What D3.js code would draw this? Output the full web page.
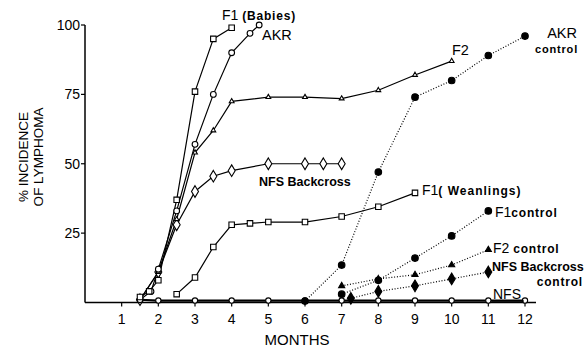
<!DOCTYPE html>
<html lang="en">
  <head>
    <meta charset="UTF-8" />
    <title>Lymphoma incidence</title>
    <style>
      body { margin: 0; background: #fff; }
      svg { display: block; font-family: "Liberation Sans", Arial, sans-serif; }
    </style>
  </head>
  <body>
    <div id="chart">
      <svg width="586" height="349"></svg>
    </div>
    <script src="https://d3js.org/d3.v7.min.js"></script>
    <script>
      // values: [month, % incidence]
      var f1Babies = [[1.5, 2], [1.75, 4], [2, 8], [2.5, 37], [3, 76], [3.5, 95], [4, 99]];
      var akr = [[1.5, 1], [1.8, 4], [2, 12], [2.5, 33], [3, 57], [3.5, 75], [4, 90], [4.5, 97], [4.75, 100]];
      var f2 = [[1.5, 1], [2, 11], [2.5, 30], [3, 54], [3.5, 62], [4, 72.5], [5, 74], [6, 74], [7, 73.5], [8, 76.5], [9, 82], [10, 87]];
      var nfsBackcross = [[1.5, 1], [2, 11], [2.5, 28], [3, 40], [3.5, 45.5], [4, 47.5], [5, 50], [6, 50], [6.5, 50], [7, 50]];
      var f1Weanlings = [[2.5, 3], [3, 9], [3.5, 20], [4, 28], [4.5, 28.5], [5, 29], [6, 29], [7, 31], [8, 34.5], [9, 39.5]];
      var nfs = [[1.5, 1], [2, 0.7], [3, 0.7], [4, 0.7], [5, 0.7], [6, 0.7], [7, 0.7], [8, 0.7], [9, 0.7], [10, 0.7], [11, 0.7], [12, 0.7]];
      var akrControl = [[6, 0.5], [7, 13.5], [8, 47], [9, 74], [10, 80], [11, 89], [12, 96]];
      var f1Control = [[7, 3], [8, 8], [9, 16], [10, 24], [11, 33]];
      var f2Control = [[7, 6], [8, 8.5], [9, 10], [10, 13.5], [11, 19]];
      var nfsBcControl = [[7.25, 1.5], [8, 4], [9, 6], [10, 8.5], [11, 11]];

      var monthTicks = [1, 2, 3, 4, 5, 6, 7, 8, 9, 10, 11, 12];
      var pctTicks = [25, 50, 75, 100];

      var svg = d3.select("#chart>svg");
      var x = d3.scaleLinear().domain([0, 12]).range([85, 525]);
      var y = d3.scaleLinear().domain([0, 100]).range([302.5, 25]);

      var line = d3.line()
        .x(function (d) { return x(d[0]); })
        .y(function (d) { return y(d[1]); });

      // axes
      svg.append("line")
        .attr("x1", x(0)).attr("x2", x(0))
        .attr("y1", y(0)).attr("y2", y(100))
        .attr("stroke", "#000").attr("stroke-width", 1.5);
      svg.append("line")
        .attr("x1", x(0)).attr("x2", x(12.3))
        .attr("y1", y(0)).attr("y2", y(0))
        .attr("stroke", "#000").attr("stroke-width", 1.5);

      var yt = svg.append("g").selectAll("g").data(pctTicks).enter().append("g");
      yt.append("line")
        .attr("x1", x(0) - 4).attr("x2", x(0))
        .attr("y1", function (d) { return y(d); })
        .attr("y2", function (d) { return y(d); })
        .attr("stroke", "#000").attr("stroke-width", 1.2);
      yt.append("text")
        .attr("x", x(0) - 5)
        .attr("y", function (d) { return y(d) + 5; })
        .attr("text-anchor", "end")
        .attr("font-size", 14)
        .text(function (d) { return d; });

      var xt = svg.append("g").selectAll("g").data(monthTicks).enter().append("g");
      xt.append("line")
        .attr("x1", function (d) { return x(d); })
        .attr("x2", function (d) { return x(d); })
        .attr("y1", y(0)).attr("y2", y(0) + 4)
        .attr("stroke", "#000").attr("stroke-width", 1.2);
      xt.append("text")
        .attr("x", function (d) { return x(d); })
        .attr("y", 324)
        .attr("text-anchor", "middle")
        .attr("font-size", 14)
        .text(function (d) { return d; });

      svg.append("text")
        .attr("x", 297).attr("y", 345)
        .attr("text-anchor", "middle")
        .attr("font-size", 15)
        .text("MONTHS");

      svg.append("text")
        .attr("transform", "translate(28,157) rotate(-90)")
        .attr("text-anchor", "middle")
        .attr("font-size", 13.5)
        .text("% INCIDENCE");
      svg.append("text")
        .attr("transform", "translate(43,157) rotate(-90)")
        .attr("text-anchor", "middle")
        .attr("font-size", 13.5)
        .text("OF LYMPHOMA");

      // series lines
      function drawLine(data, dotted, width) {
        svg.append("path")
          .datum(data)
          .attr("fill", "none")
          .attr("stroke", "#000")
          .attr("stroke-width", width || 1.2)
          .attr("stroke-dasharray", dotted ? "1,1.8" : null)
          .attr("d", line);
      }

      function symbolPath(type, size) {
        return d3.symbol().type(type).size(size)();
      }
      var diamond = {
        draw: function (ctx, s) {
          var h = Math.sqrt(s) * 0.75, w = h * 0.6;
          ctx.moveTo(0, -h); ctx.lineTo(w, 0); ctx.lineTo(0, h); ctx.lineTo(-w, 0); ctx.closePath();
        }
      };

      function drawMarks(data, type, size, filled) {
        svg.append("g").selectAll("path").data(data).enter().append("path")
          .attr("transform", function (d) { return "translate(" + x(d[0]) + "," + y(d[1]) + ")"; })
          .attr("d", symbolPath(type, size))
          .attr("fill", filled ? "#000" : "#fff")
          .attr("stroke", "#000")
          .attr("stroke-width", 1.1);
      }

      drawLine(nfs, false, 2.2);
      drawLine(akrControl, true);
      drawLine(f1Control, true);
      drawLine(f2Control, true);
      drawLine(nfsBcControl, true);
      drawLine(f1Weanlings, false);
      drawLine(nfsBackcross, false);
      drawLine(f2, false);
      drawLine(akr, false);
      drawLine(f1Babies, false);

      drawMarks(nfs, d3.symbolCircle, 22, false);
      drawMarks(akrControl, d3.symbolCircle, 34, true);
      drawMarks(f1Control, d3.symbolCircle, 34, true);
      drawMarks(f2Control, d3.symbolTriangle, 16, true);
      drawMarks(nfsBcControl, diamond, 60, true);
      drawMarks(f1Weanlings, d3.symbolSquare, 30, false);
      drawMarks(nfsBackcross, diamond, 60, false);
      drawMarks(f2, d3.symbolTriangle, 10, false);
      drawMarks(akr, d3.symbolCircle, 26, false);
      drawMarks(f1Babies, d3.symbolSquare, 30, false);

      // series labels
      function label(px, py, parts, anchor) {
        var t = svg.append("text")
          .attr("x", px).attr("y", py)
          .attr("text-anchor", anchor || "start");
        parts.forEach(function (p) {
          t.append("tspan")
            .attr("font-size", p[1])
            .attr("font-weight", p[2] ? "bold" : "normal")
            .attr("letter-spacing", p[3] || 0)
            .text(p[0]);
        });
      }
      label(222, 20, [["F1 ", 14], ["(Babies)", 12, true, 0.8]]);
      label(262, 40, [["AKR", 14.5]]);
      label(452, 55, [["F2", 14.5]]);
      label(577, 38, [["AKR", 14.5]], "end");
      label(578, 53, [["control", 11, true, 0.8]], "end");
      label(259, 186, [["NFS Backcross", 12.5, true]]);
      label(422, 195, [["F1", 14], ["( Weanlings)", 12, true, 1]]);
      label(495, 217, [["F1", 14], ["control", 12, true, 0.8]]);
      label(493, 253, [["F2 ", 14], ["control", 12, true, 0.8]]);
      label(492, 271, [["NFS Backcross", 12.5, true]]);
      label(583, 286, [["control", 12, true, 0.8]], "end");
      label(493, 299, [["NFS", 14]]);
      svg.append("line")
        .attr("x1", 492).attr("x2", 524)
        .attr("y1", 301).attr("y2", 301)
        .attr("stroke", "#000").attr("stroke-width", 1.2);
    </script>
  </body>
</html>
